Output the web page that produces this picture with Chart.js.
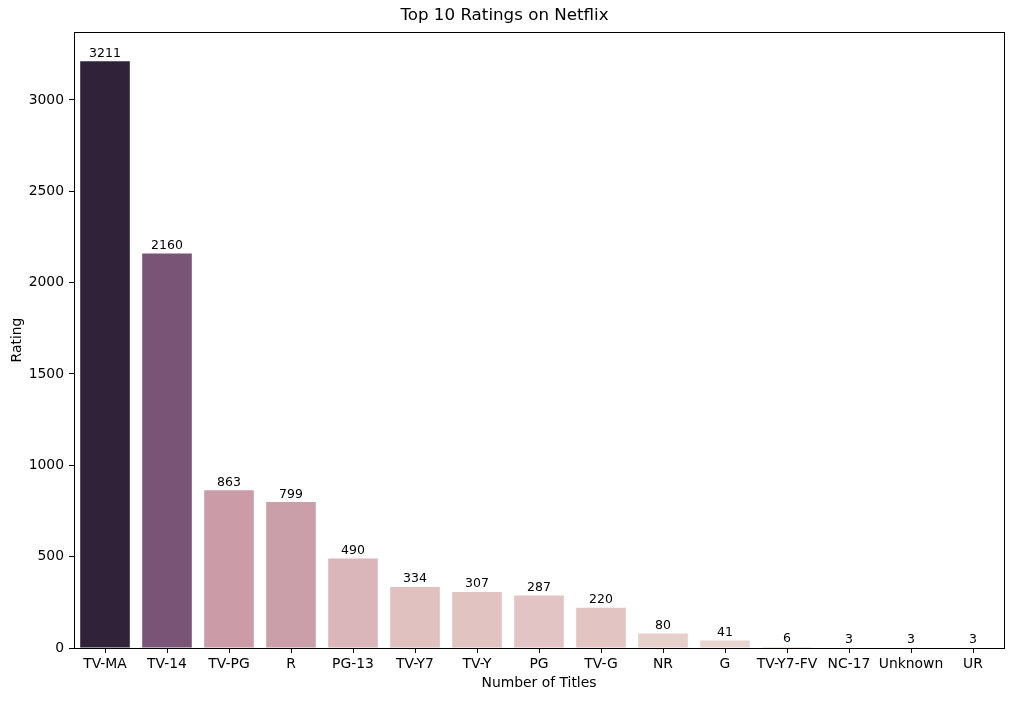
<!DOCTYPE html>
<html>
<head>
<meta charset="utf-8">
<script src="https://cdn.jsdelivr.net/npm/chart.js@4/dist/chart.umd.min.js"></script>
<style>
  html, body { margin: 0; padding: 0; background: #fff; }
  #wrap { width: 1014px; height: 701px; }
</style>
</head>
<body>
<div id="wrap"><canvas id="ratingsChart" width="1014" height="701"></canvas></div>
<script>
// Ratings and their title counts
const ratings = ['TV-MA', 'TV-14', 'TV-PG', 'R', 'PG-13', 'TV-Y7', 'TV-Y', 'PG', 'TV-G', 'NR', 'G', 'TV-Y7-FV', 'NC-17', 'Unknown', 'UR'];
const counts = [3211, 2160, 863, 799, 490, 334, 307, 287, 220, 80, 41, 6, 3, 3, 3];
const yTicks = [0, 500, 1000, 1500, 2000, 2500, 3000];

// palette, one per bar
const barColors = ['#2f2239', '#7a5476', '#cb9ca8', '#cb9fa9', '#dab5b9', '#e0c1c0', '#e1c3c2', '#e1c4c3', '#e2c4c3', '#e6d0cc', '#e8d5d1', '#ead8d4', '#ead8d4', '#ead8d4', '#ead8d4'];

const FONT = 'DejaVu Sans';

// value labels above each bar
const barLabels = {
    id: 'barLabels',
    afterDatasetsDraw(chart) {
        const { ctx } = chart;
        const meta = chart.getDatasetMeta(0);
        ctx.save();
        ctx.font = `12.5px "${FONT}"`;
        ctx.fillStyle = '#000';
        ctx.textAlign = 'center';
        ctx.textBaseline = 'bottom';
        meta.data.forEach((bar, i) => {
            ctx.fillText(String(counts[i]), bar.x, bar.y - 1.5);
        });
        ctx.restore();
    }
};

// full frame around the plot area
const frame = {
    id: 'frame',
    afterDraw(chart) {
        const { ctx, chartArea: a } = chart;
        ctx.save();
        ctx.strokeStyle = '#000';
        ctx.lineWidth = 1;
        ctx.strokeRect(Math.round(a.left) + 0.5, Math.round(a.top) + 0.5,
            Math.round(a.right - a.left), Math.round(a.bottom - a.top));
        ctx.restore();
    }
};

const ctx = document.getElementById('ratingsChart').getContext('2d');
new Chart(ctx, {
    type: 'bar',
    data: {
        labels: ratings,
        datasets: [{
            label: 'Number of Titles',
            data: counts,
            backgroundColor: barColors,
            borderWidth: 0,
            barPercentage: 0.8,
            categoryPercentage: 1.0
        }]
    },
    options: {
        responsive: false,
        animation: false,
        devicePixelRatio: 1,
        layout: { padding: { left: 5, right: 10, top: 0, bottom: 4 } },
        plugins: {
            legend: { display: false },
            tooltip: { enabled: false },
            title: {
                display: true,
                text: 'Top 10 Ratings on Netflix',
                color: '#000',
                font: { family: FONT, size: 16.7, weight: 'normal' },
                padding: { top: 6, bottom: 6 }
            }
        },
        scales: {
            x: {
                offset: true,
                grid: { display: true, offset: false, drawOnChartArea: false, drawTicks: true, tickLength: 5, color: '#000' },
                border: { display: true, color: '#000' },
                ticks: { color: '#000', font: { family: FONT, size: 13.9 }, padding: 3, maxRotation: 0, autoSkip: false },
                title: { display: true, text: 'Number of Titles', color: '#000', font: { family: FONT, size: 13.9 }, padding: { top: 0, bottom: 5 } },
                afterFit(scale) { scale.height = 49; }
            },
            y: {
                min: 0,
                max: 3211 * 1.05,
                grid: { display: true, drawOnChartArea: false, drawTicks: true, tickLength: 5, color: '#000' },
                border: { display: true, color: '#000' },
                afterBuildTicks(scale) { scale.ticks = yTicks.map(v => ({ value: v })); },
                ticks: {
                    color: '#000',
                    font: { family: FONT, size: 13.9 },
                    padding: 5,
                    callback: (v) => String(v)
                },
                title: { display: true, text: 'Rating', color: '#000', font: { family: FONT, size: 13.9 }, padding: { top: 4, bottom: 0 } },
                afterFit(scale) { scale.width = 69; }
            }
        }
    },
    plugins: [barLabels, frame]
});
</script>
</body>
</html>
